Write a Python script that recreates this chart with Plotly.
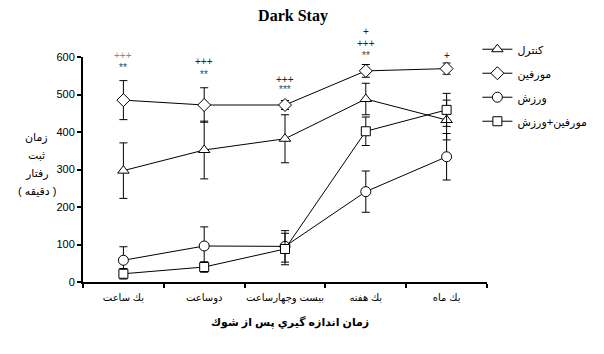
import plotly.graph_objects as go

# Time points after shock (category labels, Persian)
time_labels = ["يك ساعت", "دوساعت", "بيست وچهارساعت", "يك هفته", "يك ماه"]
x_pos = [0.5, 1.5, 2.5, 3.5, 4.5]

# Group means and standard errors (minutes)
control_mean = [297, 352, 382, 488, 432]
control_err = [74, 77, 64, 42, 53]
morphine_mean = [485, 472, 472, 563, 569]
morphine_err = [52, 46, 12, 17, 15]
exercise_mean = [58, 96, 95, 241, 334]
exercise_err = [36, 51, 42, 55, 62]
combo_mean = [22, 40, 88, 402, 459]
combo_err = [14, 14, 42, 38, 44]

series_names = ["کنترل", "مورفين", "ورزش", "مورفين+ورزش"]
series_symbols = ["triangle-up", "diamond", "circle", "square"]
series_sizes = [10, 10, 10, 9]
series_means = [control_mean, morphine_mean, exercise_mean, combo_mean]
series_errs = [control_err, morphine_err, exercise_err, combo_err]

# Significance marks above each time point: (x, y in axis units, text, colour)
sig_marks = [
    (0.5, 605, "+++", "#8a8a8a"), (0.5, 571, "**", "#444444"),
    (1.5, 587, "+++", "#222222"), (1.5, 552, "**", "#444444"),
    (2.5, 541, "+++", "#222222"), (2.5, 512, "***", "#444444"),
    (3.5, 667, "+", "#222222"), (3.5, 635, "+++", "#222222"), (3.5, 603, "**", "#444444"),
    (4.5, 605, "+", "#222222"),
]

y_label_lines = ["زمان", "ثبت", "رفتار", "( دقيقه )"]
x_title = "زمان اندازه گيري پس از شوك"

Y_MAX = 600
L, R, T, B = 83, 101, 57, 72
W, H = 604, 354
pw, ph = W - L - R, H - T - B

fig = go.Figure()

for i, (name, sym, sz, m, e) in enumerate(zip(series_names, series_symbols, series_sizes,
                                                series_means, series_errs)):
    fig.add_trace(go.Scatter(
        x=x_pos, y=m, name=name, legendgroup=f"g{i}",
        mode="lines+markers",
        line=dict(color="black", width=1),
        marker=dict(symbol=sym, size=sz, color="white",
                    line=dict(color="black", width=1)),
        error_y=dict(type="data", array=e, visible=True, color="black",
                     thickness=1, width=4),
        cliponaxis=False,
    ))

# invisible trace carrying the category tick labels on the overlay axis
fig.add_trace(go.Scatter(x=x_pos, y=[None] * 5, xaxis="x2", showlegend=False,
                         hoverinfo="skip", mode="markers"))

annotations = []
for x, y, t, c in sig_marks:
    annotations.append(dict(x=x, y=y / Y_MAX, xref="x", yref="paper", text=t, showarrow=False,
                            xanchor="center", yanchor="middle",
                            font=dict(size=10, color=c, family="Liberation Sans")))
for k, line in enumerate(y_label_lines):
    px_x, px_y = 35, 137 + 18 * k
    annotations.append(dict(x=(px_x - L) / pw, y=(H - B - px_y) / ph, xref="paper", yref="paper",
                            text=line, showarrow=False, xanchor="center", yanchor="middle",
                            font=dict(size=11, color="black")))
annotations.append(dict(x=(298 - L) / pw, y=(H - B - 322) / ph, xref="paper", yref="paper",
                        text="<b>" + x_title + "</b>",
                        showarrow=False, xanchor="center", yanchor="middle",
                        font=dict(size=11, color="black")))

fig.update_layout(
    width=W, height=H,
    margin=dict(l=L, r=R, t=T, b=B),
    paper_bgcolor="white", plot_bgcolor="white",
    font=dict(family="Liberation Sans, DejaVu Sans, sans-serif", color="black", size=11),
    title=dict(text="<b>Dark Stay</b>", x=293 / W, xanchor="center", y=1 - 15 / H,
               yanchor="middle", font=dict(family="Liberation Serif, serif", size=16)),
    showlegend=True,
    legend=dict(x=(493 - L) / pw, y=1.099, xanchor="left", yanchor="top", font=dict(size=11),
                tracegroupgap=5, entrywidth=60, entrywidthmode="pixels",
                bgcolor="rgba(0,0,0,0)"),
    xaxis=dict(range=[0, 5], tickvals=[0, 1, 2, 3, 4, 5], showticklabels=False,
               ticks="outside", ticklen=4, tickwidth=2, tickcolor="black",
               showline=True, linewidth=2, linecolor="black", showgrid=False,
               zeroline=False, fixedrange=True),
    xaxis2=dict(range=[0, 5], overlaying="x", anchor="y", side="bottom",
                tickvals=x_pos, ticktext=time_labels,
                ticks="", showline=False, showgrid=False, zeroline=False,
                ticklabelstandoff=8, tickfont=dict(size=10)),
    yaxis=dict(range=[0, Y_MAX], tickvals=[0, 100, 200, 300, 400, 500, 600],
               ticks="outside", ticklen=4, tickwidth=2, tickcolor="black",
               showline=True, linewidth=2, linecolor="black", showgrid=False,
               zeroline=False, tickfont=dict(size=11)),
    annotations=annotations,
)

fig.write_html("out.html")
